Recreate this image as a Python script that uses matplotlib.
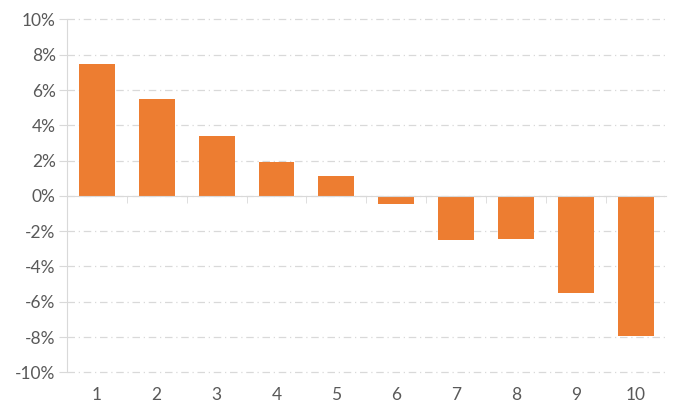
import matplotlib
matplotlib.use("Agg")
import matplotlib.pyplot as plt
from matplotlib.ticker import FuncFormatter

plt.rcParams['font.family'] = ['Lato', 'DejaVu Sans']

# decile returns (%)
deciles = [1, 2, 3, 4, 5, 6, 7, 8, 9, 10]
returns = [7.47, 5.48, 3.38, 1.93, 1.13, -0.46, -2.52, -2.44, -5.49, -7.93]
y_ticks = [-10, -8, -6, -4, -2, 0, 2, 4, 6, 8, 10]

BAR_COLOR = "#ED7D31"
TEXT_COLOR = "#595959"
GRID_COLOR = "#D9D9D9"

fig = plt.figure(figsize=(6.81, 4.11), dpi=100)
ax = fig.add_axes([0.098, 0.0942, 0.88, 0.8584])

ax.bar(deciles, returns, width=0.6, color=BAR_COLOR, zorder=3)

ax.set_xlim(0.5, 10.5)
ax.set_ylim(-10, 10)
ax.set_yticks(y_ticks)
ax.yaxis.set_major_formatter(FuncFormatter(lambda v, p: "%d%%" % v))
ax.yaxis.grid(True, color=GRID_COLOR, linestyle=(0, (6, 3, 1, 3)), linewidth=0.9, zorder=0)
for gl in ax.get_ygridlines():
    gl.set_clip_on(False)

# x axis sits at zero
ax.spines['top'].set_visible(False)
ax.spines['right'].set_visible(False)
ax.spines['bottom'].set_position(('data', 0))
ax.spines['bottom'].set_color(GRID_COLOR)
ax.spines['left'].set_color(GRID_COLOR)
ax.spines['bottom'].set_zorder(4)

# category boundary ticks on the zero line
ax.set_xticks([d + 0.5 for d in deciles[:-1]], minor=True)
ax.tick_params(axis='x', which='minor', length=5, color=GRID_COLOR, direction='out')
ax.set_xticks(deciles)
ax.set_xticklabels([])
ax.tick_params(axis='x', which='major', length=0)
ax.tick_params(axis='y', length=6, color=GRID_COLOR, labelsize=12.5, labelcolor=TEXT_COLOR, pad=2)

# decile labels go under the plot area, not under the zero line
for d in deciles:
    ax.text(d, -11.3, str(d), ha='center', va='center', fontsize=12.5, color=TEXT_COLOR)

fig.savefig("out.png", dpi=100)
